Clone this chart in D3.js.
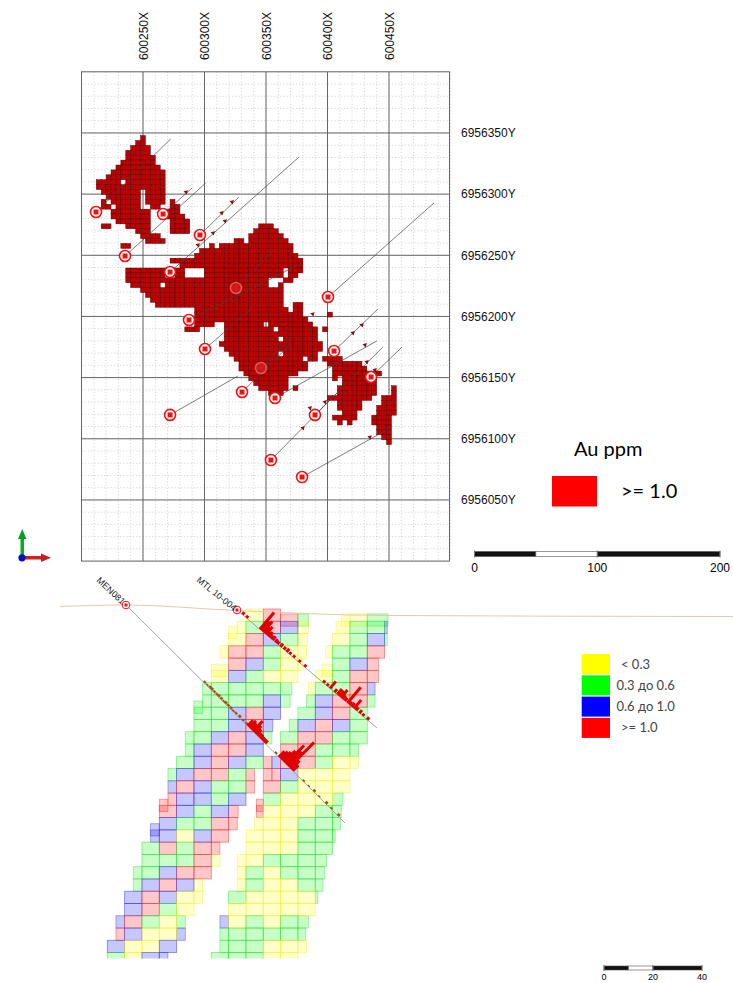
<!DOCTYPE html>
<head>
  <meta charset="utf-8">
  <title>Au block model</title>
  <style>
      body { margin: 0; background: #fff; }
      svg { display: block; }
      text { font-family: "Liberation Sans", Arial, sans-serif; }
  </style>
  <script src="https://d3js.org/d3.v7.js"></script>
</head>
<body>
<div id="chart"></div>
<script>
    // plan view ticks
    const eastTicks = [600250, 600300, 600350, 600400, 600450];
    const northTicks = [6956350, 6956300, 6956250, 6956200, 6956150, 6956100, 6956050];

    // plan blocks >= 1.0 ppm: [row from north, first column, last column]
    const oreRuns = [
        [13,12,12],[14,11,12],[15,10,13],[16,9,13],[17,9,14],[18,8,14],[19,7,15],[20,6,16],[21,5,16],
        [22,3,4],[22,5,7],[22,9,16],[23,3,4],[23,5,16],[24,4,11],[24,13,16],[25,5,11],[25,13,16],
        [26,4,4],[26,6,11],[26,13,16],[26,18,18],[27,4,5],[27,7,11],[27,14,15],[27,18,19],
        [28,6,13],[28,16,19],[29,6,13],[29,16,20],[30,7,13],[30,18,21],[31,4,5],[31,9,13],[31,18,21],[31,36,38],
        [32,11,13],[32,18,21],[32,35,39],[33,12,15],[33,34,40],[34,13,15],[34,16,16],[34,31,32],[34,34,41],
        [35,8,9],[35,26,26],[35,28,42],[36,24,42],[37,23,43],[38,18,44],[39,20,44],
        [40,9,15],[40,16,20],[40,25,40],[40,42,44],[41,9,16],[41,19,20],[41,25,40],[41,42,43],
        [42,9,37],[42,41,42],[43,10,15],[43,17,37],[43,40,40],[44,12,40],[45,13,40],[46,14,40],
        [47,15,40],[47,43,44],[48,23,41],[48,43,44],[49,23,44],[49,50,50],[50,23,45],
        [51,23,26],[51,29,36],[51,38,46],[52,21,23],[52,29,38],[52,40,47],[52,49,49],[53,29,47],
        [54,29,39],[54,41,47],[55,28,48],[56,29,48],[57,30,39],[57,41,47],
        [58,31,44],[58,46,47],[58,49,52],[59,32,45],[59,50,56],[60,32,45],[60,51,57],
        [61,33,43],[61,51,60],[62,34,41],[62,51,51],[62,53,59],[63,35,41],[63,53,59],
        [64,36,41],[64,43,43],[64,52,59],[64,63,63],[65,38,40],[65,52,59],[65,63,63],
        [66,50,58],[66,61,63],[67,52,56],[67,61,63],[68,52,56],[68,60,63],[69,53,55],[69,60,63],
        [70,51,55],[70,59,62],[71,52,52],[71,54,54],[71,59,62],[72,60,62],[73,60,62],[74,61,62],[75,62,62]
    ];

    // drill holes in plan: collar and toe, metres past 600000 / 6956000
    const collarE = [211.8,235.4,266.3,296.3,272,325.6,287.4,300.4,345.9,330.5,357.3,272,400.4,405.3,435.4,389.8,354,379.3];
    const collarN = [285.4,249.4,283.7,266.6,236.3,223.3,197.1,173.4,157.9,138.2,133.3,119.5,215.9,171.7,150.5,119.5,82.6,68.7];
    const toeE = [272.5,301,289.8,328,376.8,354,379.3,338.6,372,369.5,440,327.2,486.6,441,460.6,445,407.7,452.4];
    const toeN = [345.1,309.1,305,297.7,330.3,251.9,243.7,206.9,183.2,176.7,179.9,151.3,292.8,206.1,175,175,137.4,109.6];
    // these two collars sit under the block model and look washed out
    const collarBuried = [5, 8];

    // small intercepts along the plan holes
    const interceptE = [285,322.4,314,316.7,307,294.7,388,428,420.7,430.5,432,438.6,398,385.8,380,434.5];
    const interceptN = [301.7,293.6,284.6,278,268.2,258.4,202,193,186.5,176.7,162.8,156.3,130.1,125.2,108.8,101.4];

    // section blocks: [row, first column, grades], y g b r
    const sectionRows = [
        [0,8,"yr"],[1,8,"grb"],[2,7,"yrbg"],[3,7,"rrgy"],[4,7,"rbgy"],[5,6,"ybgyy"],[6,6,"gggg"],[7,6,"gggb"],
        [8,5,"ggbrb"],[9,5,"ggbr"],[10,5,"gbrb"],[11,5,"brrb"],[12,4,"gbrbg"],[13,4,"brrg"],[14,4,"rbgg"],
        [15,4,"bbgb"],[16,3,"rbgb"],[17,3,"bggr"],[18,3,"bybr"],[19,2,"grgr"],[20,2,"gggr"],[21,2,"gbrr"],
        [22,2,"brb"],[23,1,"brby"],[24,1,"brgy"],[25,1,"rgy"],[26,1,"byy"],[27,0,"byyb"],[28,0,"gyb"],
        [1,14,"gg"],[2,13,"ygb"],[3,13,"ggr"],[4,13,"gb"],[5,12,"ygr"],[6,12,"ggr"],[7,12,"brr"],[8,12,"brg"],
        [9,11,"brbg"],[10,10,"grrgg"],[11,10,"rrgg"],[12,10,"rrgy"],[13,10,"byyy"],[14,9,"rgyyy"],[15,9,"gyyy"],
        [16,9,"yyyg"],[17,9,"yygg"],[18,8,"yyygg"],[19,8,"yyygg"],[20,8,"yggg"],[21,8,"gygg"],[22,8,"gyyg"],
        [23,7,"gyyyy"],[24,7,"yyyyy"],[25,7,"ygyg"],[26,7,"gggg"],[27,7,"ggyy"],[28,6,"gggyy"]
    ];

    // partly hidden blocks from the neighbouring slices: [row, column, width, grade]
    const sectionBack = [
        [0.4,10,1,"r"],[0.4,11,0.6,"g"],[1,7.5,0.5,"y"],[1,11,0.6,"y"],[1.4,7,0.5,"y"],[2,11,0.55,"y"],[3,6.5,0.5,"y"],[3,11,0.5,"y"],
        [4.5,6,1,"y"],[4,11,0.3,"y"],[6,5.5,0.5,"g"],[6,10,0.65,"g"],[7,5.5,0.5,"g"],[7.5,5,0.5,"g"],[7,10,0.55,"g"],
        [9,9,0.55,"b"],[10,4.5,0.5,"g"],[10,9,0.5,"g"],[11,4.5,0.5,"g"],[12,9,0.5,"r"],[13,3.5,0.5,"g"],[13,8,0.5,"r"],
        [14,3.5,0.5,"b"],[14,8,0.5,"r"],[15,3.5,0.5,"r"],[15.5,3,0.5,"r"],[16,7,0.55,"r"],[17,7,0.5,"r"],[17.5,2.5,0.5,"b"],
        [18,2.5,0.5,"b"],[19,6,0.5,"r"],[20,6,0.5,"y"],[21,1.5,0.5,"g"],[22,1.5,0.5,"g"],[22,5,0.5,"y"],[23,5,0.5,"y"],
        [25,0.5,0.5,"b"],[25,4,0.5,"g"],[26,0.5,0.5,"r"],[26,4,0.5,"b"],[28,3,0.5,"b"],
        [0.4,13.5,0.5,"y"],[0.4,14,1,"y"],[0.4,15,1.2,"g"],[1,13.2,0.8,"y"],[1,16,0.15,"b"],[2,16,0.15,"g"],[3,12.6,0.4,"y"],
        [4,15,0.65,"r"],[4.5,12.4,0.6,"y"],[5,15,0.65,"r"],[6,11.6,0.4,"y"],[6,15,0.45,"b"],[7,11.5,0.5,"g"],[7,15,0.45,"g"],
        [8,11,1,"g"],[9,10.5,0.5,"g"],[11,14,0.5,"g"],[12,9.5,0.5,"b"],[12,14,0.5,"y"],[13,9,0.5,"r"],[13,9.5,0.5,"r"],
        [15,13,0.6,"g"],[15.5,8.6,0.4,"r"],[16,13,0.5,"g"],[16,8.6,0.4,"r"],[17,8.5,0.5,"y"],[17,13,0.45,"g"],[18,13,0.15,"g"],
        [20,7.5,0.5,"y"],[20,12,0.65,"g"],[21,7.5,0.5,"y"],[21,12,0.55,"g"],[22,7.5,0.5,"y"],[22,12,0.45,"g"],[23,12,0.15,"g"],
        [25,6.5,0.5,"b"],[25,11,0.6,"g"],[26,6.5,0.5,"g"],[26,11,0.45,"g"],[27,6.5,0.5,"g"],[27,11,0.5,"y"]
    ];

    // section drill holes, assays along the hole
    const menDepth = [45,46.5,48,49,50.5,52,53,54.5,56,57,58.5,60,61.5,63,65,67,69,70,71,72,73,74,75,76,77,78,79,80,
        86,88,89,90,91,92,93,94,95,96,102,105,108,111,115,118,122];
    const menAu = [0.5,0.4,0.6,0.65,0.5,0.5,0.65,0.6,0.4,0.65,0.6,0.6,0.4,0.5,0.65,0.5,0.6,2,2.4,2,3.5,2.4,1.8,1.2,1.2,1,1,1,
        0.5,2,2.5,3,4,6.5,5,8.75,3,2,0.4,0.3,0.6,0.3,0.65,0.4,0.6];
    const mtlDepth = [2.9,5,12.2,13,14,14.7,15.5,16.3,17,18,19,20.4,21.5,23.2,25,26.5,28,30,33,36,46,48,49.6,52,53.5,54.5,55.5,56.3,57.5,58.9,60,61.2,62.4,63.5,65.3,67,69.4];
    const mtlAu = [0.8,0.7,5.5,3,3.5,2,2.5,1.3,1.5,1,1.2,1,0.8,1,0.8,1,0.7,0.7,0.7,0.7,0.7,0.7,2.3,1,1.8,1.8,2.5,1.2,1,5.2,1,1.2,2.8,1,1,0.7,0.8];

    const gradeLabels = ["< 0.3", "0.3 до 0.6", "0.6 до 1.0", ">= 1.0"];
    const gradeCodes = ["y", "g", "b", "r"];
    const gradeFills = ["#ffff00", "#00ff00", "#0000ff", "#ff0000"];

    const svg = d3.select("#chart").append("svg").attr("width", 733).attr("height", 983);

    // --- plan view
    const x = d3.scaleLinear().domain([600200, 600500]).range([81.5, 450.5]);
    const y = d3.scaleLinear().domain([6956400, 6956000]).range([71.8, 561.1]);
    const planTop = y.range()[0], planBottom = y.range()[1], planLeft = x.range()[0], planRight = x.range()[1] - 1;

    const minorE = d3.range(600200, 600501, 10);
    const minorN = d3.range(6956000, 6956401, 10);
    const grid = svg.append("g");
    grid.selectAll(".minor-x").data(minorE).join("line")
        .attr("x1", d => x(d)).attr("x2", d => x(d)).attr("y1", planTop).attr("y2", planBottom)
        .attr("stroke", "#c4c4c4").attr("stroke-width", 0.7).attr("stroke-dasharray", "1.2 2");
    grid.selectAll(".minor-y").data(minorN).join("line")
        .attr("y1", d => y(d)).attr("y2", d => y(d)).attr("x1", planLeft).attr("x2", planRight)
        .attr("stroke", "#c4c4c4").attr("stroke-width", 0.7).attr("stroke-dasharray", "1.2 2");
    grid.selectAll(".major-x").data(eastTicks).join("line")
        .attr("x1", d => x(d)).attr("x2", d => x(d)).attr("y1", planTop).attr("y2", planBottom)
        .attr("stroke", "#666").attr("stroke-width", 1);
    grid.selectAll(".major-y").data(northTicks).join("line")
        .attr("y1", d => y(d)).attr("y2", d => y(d)).attr("x1", planLeft).attr("x2", planRight)
        .attr("stroke", "#666").attr("stroke-width", 1);
    grid.append("rect").attr("x", planLeft).attr("y", planTop)
        .attr("width", planRight - planLeft).attr("height", planBottom - planTop)
        .attr("fill", "none").attr("stroke", "#666");

    const blockE = 4, blockN = 4.01;
    const oreCells = oreRuns.flatMap(([row, c0, c1]) => d3.range(c0, c1 + 1).map(c => [row, c]));
    svg.append("g").selectAll("rect").data(oreCells).join("rect")
        .attr("x", d => x(600200 + d[1] * blockE))
        .attr("y", d => y(6956400 - d[0] * blockN))
        .attr("width", x(600200 + blockE) - x(600200))
        .attr("height", y(6956400 - blockN) - y(6956400))
        .attr("fill", "#c00000").attr("stroke", "#4a0505").attr("stroke-width", 0.45);

    const holes = collarE.map((e, i) => ({e, n: collarN[i], te: toeE[i], tn: toeN[i], buried: collarBuried.includes(i)}));
    svg.append("g").selectAll("line").data(holes).join("line")
        .attr("x1", d => x(600000 + d.e)).attr("y1", d => y(6956000 + d.n))
        .attr("x2", d => x(600000 + d.te)).attr("y2", d => y(6956000 + d.tn))
        .attr("stroke", "#444").attr("stroke-width", 0.7);

    svg.append("g").selectAll("path").data(interceptE).join("path")
        .attr("d", d3.symbol(d3.symbolTriangle, 9))
        .attr("transform", (d, i) => `translate(${x(600000 + d)},${y(6956000 + interceptN[i])}) rotate(45)`)
        .attr("fill", "#8a1010");

    const collars = svg.append("g").selectAll("g").data(holes).join("g")
        .attr("transform", d => `translate(${x(600000 + d.e)},${y(6956000 + d.n)})`);
    collars.append("circle").attr("r", 5.5)
        .attr("fill", "#fff").attr("fill-opacity", d => d.buried ? 0.12 : 1)
        .attr("stroke", d => d.buried ? "#e85050" : "#f01010").attr("stroke-width", 1.6);
    collars.append("rect").attr("x", -2.5).attr("y", -2.5).attr("width", 5).attr("height", 5)
        .attr("fill", "#f01010");

    // top and right labels
    const axisTop = svg.append("g").attr("transform", "translate(0,60)")
        .call(d3.axisTop(x).tickValues(eastTicks).tickSize(0).tickPadding(0).tickFormat(d => d + "X"));
    axisTop.select(".domain").remove();
    axisTop.selectAll("text").attr("transform", "rotate(-90)")
        .attr("text-anchor", "start").attr("x", 0).attr("y", 0).attr("dy", "0.35em")
        .style("font-size", "12px").style("font-family", "Liberation Sans").attr("fill", "#111");
    const axisRight = svg.append("g").attr("transform", "translate(461,0)")
        .call(d3.axisRight(y).tickValues(northTicks).tickSize(0).tickPadding(0).tickFormat(d => d + "Y"));
    axisRight.select(".domain").remove();
    axisRight.selectAll("text").style("font-size", "12px").style("font-family", "Liberation Sans").attr("fill", "#111");

    // plan legend
    svg.append("text").attr("x", 574).attr("y", 456).style("font-family", "Lato").style("font-size", "20px").text("Au ppm");
    svg.append("rect").attr("x", 552).attr("y", 476).attr("width", 45).attr("height", 30.5).attr("fill", "#ff0000");
    svg.append("text").attr("x", 621).attr("y", 498).style("font-family", "Lato").style("font-size", "20px").text(">= 1.0");

    // scale bars
    function scaleBar(x0, x1, max, top, h, fontSize, labelY) {
        const s = d3.scaleLinear().domain([0, max]).range([x0, x1]);
        const g = svg.append("g");
        const parts = [[0, max / 4, "#111"], [max / 4, max / 2, "#fff"], [max / 2, max, "#111"]];
        g.selectAll("rect").data(parts).join("rect")
            .attr("x", d => s(d[0])).attr("width", d => s(d[1]) - s(d[0]))
            .attr("y", top).attr("height", h).attr("fill", d => d[2]).attr("stroke", "#555").attr("stroke-width", 0.6);
        g.selectAll("text").data([0, max / 2, max]).join("text")
            .attr("x", d => s(d)).attr("y", labelY).attr("text-anchor", "middle")
            .style("font-size", fontSize + "px").text(d => d);
        g.selectAll(".t").data([0, max / 2, max]).join("line")
            .attr("x1", d => s(d)).attr("x2", d => s(d)).attr("y1", top - 1).attr("y2", top + h + 1).attr("stroke", "#777");
    }
    scaleBar(474.5, 720, 200, 551.5, 5, 12, 572);
    scaleBar(604, 702, 40, 966, 4, 9, 980);

    // axis triad
    const triad = svg.append("g");
    triad.append("rect").attr("x", 20.5).attr("y", 537).attr("width", 3.5).attr("height", 20).attr("fill", "#00b020");
    triad.append("path").attr("d", "M22.2 529 L26.5 539 L18 539 Z").attr("fill", "#00a020");
    triad.append("rect").attr("x", 22).attr("y", 556).attr("width", 20).attr("height", 3.5).attr("fill", "#d02020");
    triad.append("path").attr("d", "M51 557.8 L41 553.5 L41 562 Z").attr("fill", "#c02020");
    triad.append("circle").attr("cx", 22).attr("cy", 557.8).attr("r", 3.6).attr("fill", "#0010c0");

    // --- section
    svg.append("defs").append("clipPath").attr("id", "section-clip")
        .append("rect").attr("x", 0).attr("y", 600).attr("width", 733).attr("height", 358.5);

    const colX = d3.scaleLinear().domain([0, 1]).range([107.3, 124.63]);
    const rowY = d3.scaleLinear().domain([0, 1]).range([609, 621.27]);
    const gradeStroke = d3.scaleOrdinal().domain(gradeCodes).range(["#f0f020", "#20d830", "#2828d8", "#e02828"]);
    const gradeFill = d3.scaleOrdinal().domain(gradeCodes).range(gradeFills);

    const frontCells = sectionRows.flatMap(([row, col, codes]) =>
        Array.from(codes).map((code, i) => [row, col + i, 1, code]));
    const sectionGroup = svg.append("g").attr("clip-path", "url(#section-clip)");
    function drawCells(cells, strokeOpacity) {
        sectionGroup.append("g").selectAll("rect").data(cells).join("rect")
            .attr("x", d => colX(d[1])).attr("y", d => rowY(d[0]))
            .attr("width", d => colX(d[2]) - colX(0)).attr("height", rowY(1) - rowY(0))
            .attr("fill", d => gradeFill(d[3])).attr("fill-opacity", 0.22)
            .attr("stroke", d => gradeStroke(d[3])).attr("stroke-opacity", strokeOpacity).attr("stroke-width", 0.8);
    }
    drawCells(sectionBack, 0.45);
    drawCells(frontCells, 0.55);

    // terrain
    const terrainX = [60, 126, 236, 385, 733];
    const terrainY = [606.5, 605, 610.5, 615.5, 616.5];
    svg.append("path").attr("d", d3.line().curve(d3.curveMonotoneX)(terrainX.map((v, i) => [v, terrainY[i]])))
        .attr("fill", "none").attr("stroke", "#e8c8a8").attr("stroke-width", 1);

    // section holes
    const depth = d3.scaleLinear().domain([0, 100]).range([0, 245]);
    const auLength = d3.scaleLinear().domain([0, 1]).range([0, 4]);
    const auColor = d3.scaleThreshold().domain([0.3, 0.7]).range(["#e06000", "#a8500c", "#e00000"]);
    const ux = 0.709, uy = 0.705, vx = 0.765, vy = 0.645;

    function sectionHole(name, cx, cy, tx, ty, dx, dy, depths, values, labelAngle, labelX, labelY) {
        svg.append("line").attr("x1", cx).attr("y1", cy).attr("x2", tx).attr("y2", ty)
            .attr("stroke", "#999").attr("stroke-width", 0.9);
        svg.append("g").selectAll("line").data(depths).join("line")
            .attr("x1", d => cx + dx * depth(d)).attr("y1", d => cy + dy * depth(d))
            .attr("x2", (d, i) => cx + dx * depth(d) + dy * auLength(values[i]))
            .attr("y2", (d, i) => cy + dy * depth(d) - dx * auLength(values[i]))
            .attr("stroke", (d, i) => auColor(values[i])).attr("stroke-width", 3);
        const c = svg.append("g").attr("transform", `translate(${cx},${cy})`);
        c.append("circle").attr("r", 3.8).attr("fill", "#fff").attr("stroke", "#f01010").attr("stroke-width", 1);
        c.append("rect").attr("x", -1.5).attr("y", -1.5).attr("width", 3).attr("height", 3).attr("fill", "#f01010");
        svg.append("text").attr("transform", `translate(${labelX},${labelY}) rotate(${labelAngle})`)
            .style("font-size", "9px").attr("fill", "#222").text(name);
    }
    sectionHole("MEN081", 126, 605, 345, 823, ux, uy, menDepth, menAu, 43, 96, 581);
    sectionHole("MTL 10-004", 237, 610, 377, 728, vx, vy, mtlDepth, mtlAu, 39, 196, 581);

    // section legend
    const legend = svg.append("g");
    legend.selectAll("rect").data(gradeCodes).join("rect")
        .attr("x", 581.7).attr("y", (d, i) => 654 + i * 21.3).attr("width", 28.3).attr("height", 20)
        .attr("fill", d => gradeFill(d));
    legend.selectAll("text").data(gradeLabels).join("text")
        .attr("x", (d, i) => (i === 0 || i === 3) ? 621 : 616.5).attr("y", (d, i) => 668.5 + i * 21)
        .attr("fill", "#444").style("font-family", "Lato").style("font-size", "13px").text(d => d);
</script>
</body>
